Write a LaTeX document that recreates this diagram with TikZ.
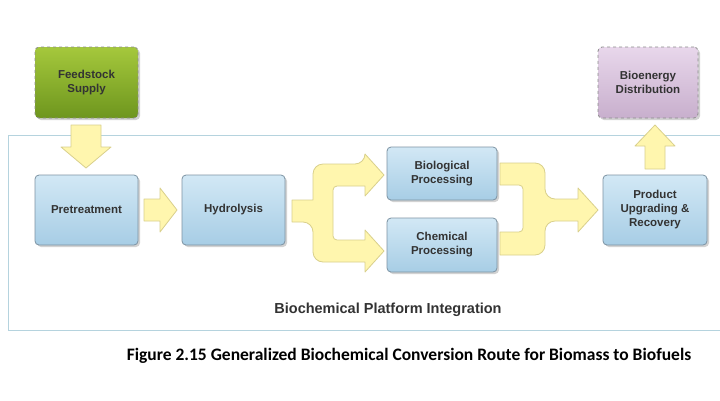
\documentclass[tikz,border=0pt]{standalone}
\usepackage{fontspec}
\setmainfont{Liberation Sans}
\newfontfamily\capfont{Carlito}
\usetikzlibrary{shadows}
\definecolor{boxtop}{HTML}{D2E8F5}
\definecolor{boxbot}{HTML}{A7CDE5}
\definecolor{boxline}{HTML}{7D93A3}
\definecolor{arrfill}{HTML}{FFF6AE}
\definecolor{arrline}{HTML}{D9D08C}
\definecolor{frameline}{HTML}{B5D3DE}
\tikzset{
  procbox/.style={draw=boxline, line width=0.8pt, rounded corners=4pt, top color=boxtop, bottom color=boxbot,
    drop shadow={shadow xshift=2pt, shadow yshift=-2pt, opacity=0.35},
    font=\bfseries\fontsize{11.5}{14}\selectfont, align=center, text=black!80},
  extbox/.style={procbox, dashed, draw=black!45},
  blockarrow/.style={fill=arrfill, draw=arrline, line width=0.8pt, line join=round}
}
\begin{document}
\begin{tikzpicture}[x=1pt,y=-1pt]
\useasboundingbox[fill=white] (0,0) rectangle (720,400);
\draw[frameline, line width=1pt] (720,135) -- (8,135) -- (8,330) -- (720,330);
\node[extbox, top color={rgb,255:red,165;green,200;blue,60}, bottom color={rgb,255:red,110;green,150;blue,30}, minimum width=103pt, minimum height=71pt] (feed) at (86.5,82.5) {Feedstock\\Supply};
\node[extbox, top color={rgb,255:red,232;green,215;blue,235}, bottom color={rgb,255:red,200;green,175;blue,205}, minimum width=100pt, minimum height=71pt] (bio) at (648,82.5) {Bioenergy\\Distribution};
\node[procbox, minimum width=103pt, minimum height=70pt] (pre) at (86.5,210) {Pretreatment};
\node[procbox, minimum width=103pt, minimum height=70pt] (hyd) at (233.5,210) {Hydrolysis};
\node[procbox, minimum width=110pt, minimum height=53pt] (biol) at (442,173.5) {Biological\\Processing};
\node[procbox, minimum width=110pt, minimum height=54pt] (chem) at (442,245) {Chemical\\Processing};
\node[procbox, minimum width=104pt, minimum height=70pt] (prod) at (655,210) {Product\\Upgrading \&\\Recovery};
% feed -> pre
\draw[blockarrow] (71,125) -- (101,125) -- (101,147) -- (111,147) -- (86,168) -- (61,147) -- (71,147) -- cycle;
% pre -> hyd
\draw[blockarrow] (144,199) -- (160,199) -- (160,188) -- (177,210) -- (160,232) -- (160,221) -- (144,221) -- cycle;
% split
\draw[blockarrow] (292,200) -- (313,200) [rounded corners=10pt] -- (313,164) -- (365,164) [sharp corners] -- (365,154) -- (384,175) -- (365,196) -- (365,186) [rounded corners=4pt] -- (333,186) -- (333,240) [sharp corners] -- (365,240) -- (365,230) -- (384,251) -- (365,272) -- (365,262) [rounded corners=10pt] -- (313,262) -- (313,222) [sharp corners] -- (292,222) -- cycle;
% merge
\draw[blockarrow] (500,163) [rounded corners=10pt] -- (545,163) -- (545,199) [sharp corners] -- (578,199) -- (578,188) -- (598,210) -- (578,232) -- (578,221) [rounded corners=10pt] -- (545,221) -- (545,255) [sharp corners] -- (500,255) -- (500,232) [rounded corners=4pt] -- (523,232) -- (523,185) [sharp corners] -- (500,185) -- cycle;
% prod -> bio
\draw[blockarrow] (645,169) -- (665,169) -- (665,146) -- (675,146) -- (655,125) -- (635,146) -- (645,146) -- cycle;
\node[font=\bfseries\fontsize{14.5}{16}\selectfont, text=black!80] (plat) at (388,310) {Biochemical Platform Integration};
\node[font=\capfont\bfseries\fontsize{17.5}{20}\selectfont] (cap) at (409,356) {Figure 2.15 Generalized Biochemical Conversion Route for Biomass to Biofuels};
\end{tikzpicture}
\end{document}
